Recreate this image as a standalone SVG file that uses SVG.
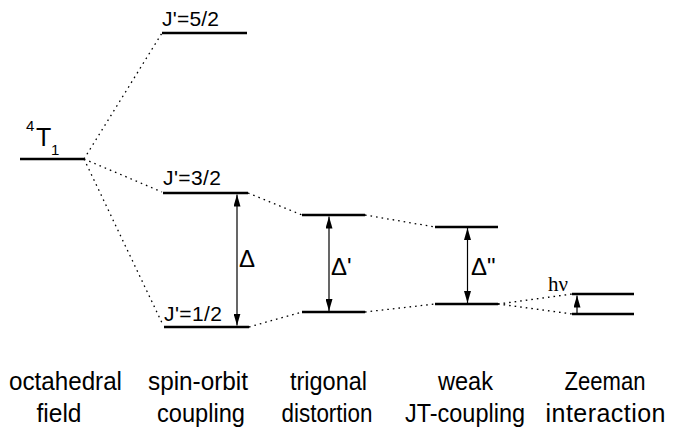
<svg xmlns="http://www.w3.org/2000/svg" width="675" height="431" viewBox="0 0 675 431">
<defs>
<marker id="ah" viewBox="0 0 12 7" refX="12" refY="3.5" markerWidth="12" markerHeight="7" markerUnits="userSpaceOnUse" orient="auto-start-reverse">
<path d="M0,0 L12,3.5 L0,7 z" fill="#000"/>
</marker>
<style>
.lvl{stroke:#000;stroke-width:2.5;fill:none}
.dot{stroke:#000;stroke-width:1.3;stroke-dasharray:1.6 4;fill:none}
.arr{stroke:#000;stroke-width:1.2;fill:none}
.sans{font-family:"Liberation Sans",Arial,sans-serif;fill:#000}
.lab{font-size:21px}
.bot{font-size:25px;text-anchor:middle}
.del{font-family:"Liberation Sans",Arial,sans-serif;font-size:24px;fill:#000}
.serif{font-family:"Liberation Serif","Times New Roman",serif;fill:#000}
</style>
</defs>
<g id="connectors">
<path class="dot" d="M84,159 L162,33"/>
<path class="dot" d="M84,159 L162,192"/>
<path class="dot" d="M84,159 L163,325"/>
<path class="dot" d="M248,193 L302,215"/>
<path class="dot" d="M249,327 L302,312"/>
<path class="dot" d="M365,215 L435,227"/>
<path class="dot" d="M365,312 L435,304"/>
<path class="dot" d="M498,304 L572,294"/>
<path class="dot" d="M498,304 L572,314"/>
<path class="arr" d="M237,194.5 L237,325.5" marker-start="url(#ah)" marker-end="url(#ah)"/>
<path class="arr" d="M329,216.5 L329,311" marker-start="url(#ah)" marker-end="url(#ah)"/>
<path class="arr" d="M467.5,228 L467.5,303" marker-start="url(#ah)" marker-end="url(#ah)"/>
<path class="arr" d="M577,313 L577,295.5" marker-end="url(#ah)"/>
</g>
<g id="T1">
<path class="lvl" d="M20,159 L84,159"/>
<text class="sans" x="26" y="131" font-size="15">4</text>
<text class="sans" x="36" y="146" font-size="25">T</text>
<text class="sans" x="51" y="155" font-size="15">1</text>
</g>
<g id="J52">
<path class="lvl" d="M162,33 L247,33"/>
<text class="sans lab" x="162" y="26" textLength="57" lengthAdjust="spacing">J'=5/2</text>
</g>
<g id="J32">
<path class="lvl" d="M163,193 L248,193"/>
<text class="sans lab" x="163" y="185" textLength="58" lengthAdjust="spacing">J'=3/2</text>
</g>
<g id="J12">
<path class="lvl" d="M164,327 L249,327"/>
<text class="sans lab" x="164" y="320.5" textLength="58" lengthAdjust="spacing">J'=1/2</text>
</g>
<g id="delta">
<text class="del" x="239" y="267">Δ</text>
</g>
<g id="trig-up"><path class="lvl" d="M302,215 L365,215"/></g>
<g id="trig-low"><path class="lvl" d="M302,312 L365,312"/></g>
<g id="delta1"><text class="del" x="331" y="275">Δ'</text></g>
<g id="jt-up"><path class="lvl" d="M435,227 L498,227"/></g>
<g id="jt-low"><path class="lvl" d="M435,304 L498,304"/></g>
<g id="delta2"><text class="del" x="471" y="275">Δ"</text></g>
<g id="z-up"><path class="lvl" d="M572,294 L634,294"/></g>
<g id="z-low"><path class="lvl" d="M572,314 L634,314"/></g>
<g id="hnu"><text class="serif" x="548" y="291" font-size="21">hν</text></g>
<g id="labels">
<text class="sans bot" x="65.5" y="390" textLength="113" lengthAdjust="spacingAndGlyphs">octahedral</text>
<text class="sans bot" x="59" y="422" textLength="45" lengthAdjust="spacingAndGlyphs">field</text>
<text class="sans bot" x="198" y="390" textLength="100" lengthAdjust="spacingAndGlyphs">spin-orbit</text>
<text class="sans bot" x="201" y="422" textLength="88" lengthAdjust="spacingAndGlyphs">coupling</text>
<text class="sans bot" x="328.5" y="390" textLength="77" lengthAdjust="spacingAndGlyphs">trigonal</text>
<text class="sans bot" x="327" y="422" textLength="91" lengthAdjust="spacingAndGlyphs">distortion</text>
<text class="sans bot" x="465.5" y="390" textLength="55" lengthAdjust="spacingAndGlyphs">weak</text>
<text class="sans bot" x="465" y="422" textLength="120" lengthAdjust="spacingAndGlyphs">JT-coupling</text>
<text class="sans bot" x="605" y="390" textLength="81" lengthAdjust="spacingAndGlyphs">Zeeman</text>
<text class="sans bot" x="605.5" y="422" textLength="120" lengthAdjust="spacing">interaction</text>
</g>
</svg>
